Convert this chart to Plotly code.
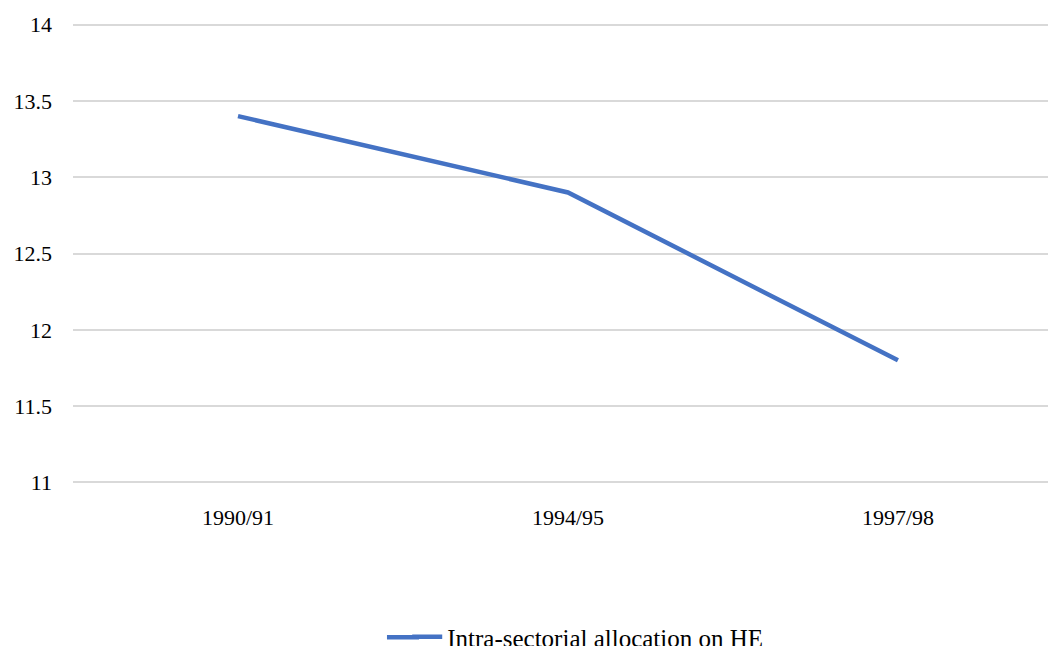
import plotly.graph_objects as go

categories = ["1990/91", "1994/95", "1997/98"]
values = [13.4, 12.9, 11.8]
series_name = "Intra-sectorial allocation on HE"
y_ticks = [11, 11.5, 12, 12.5, 13, 13.5, 14]
y_tick_labels = ["11", "11.5", "12", "12.5", "13", "13.5", "14"]

line_color = "#4472C4"

fig = go.Figure()
fig.add_trace(go.Scatter(
    x=categories, y=values, mode="lines", name=series_name,
    line=dict(color=line_color, width=4.5),
))

tick_font = dict(family="Liberation Serif", size=22, color="#000000")
legend_font = dict(family="Liberation Serif", size=25, color="#000000")

fig.update_layout(
    width=1048, height=638,
    margin=dict(l=65, r=0, t=14.5, b=161.5),
    paper_bgcolor="white", plot_bgcolor="white",
    font=tick_font,
    showlegend=True,
    legend=dict(orientation="h", x=0.340, xanchor="left", yref="container",
                y=0.014, yanchor="middle", font=legend_font,
                bgcolor="rgba(0,0,0,0)"),
    xaxis=dict(type="category", range=[-0.5, 2.479], showgrid=False, showline=False,
               zeroline=False, ticks="", ticklabelstandoff=18, tickfont=tick_font),
    yaxis=dict(range=[10.99, 14.01], tickvals=y_ticks, ticktext=y_tick_labels,
               showgrid=True, gridcolor="#D9D9D9", gridwidth=1.5, showline=False,
               zeroline=False, ticks="", ticklabelstandoff=20, tickfont=tick_font),
)

# lengthen the legend sample line to match the reference's longer swatch
fig.add_shape(type="line", xref="paper", yref="paper",
              x0=0.3194, x1=0.352, y0=-0.3322, y1=-0.3322,
              line=dict(color=line_color, width=4.5))

fig.write_html("out.html")
